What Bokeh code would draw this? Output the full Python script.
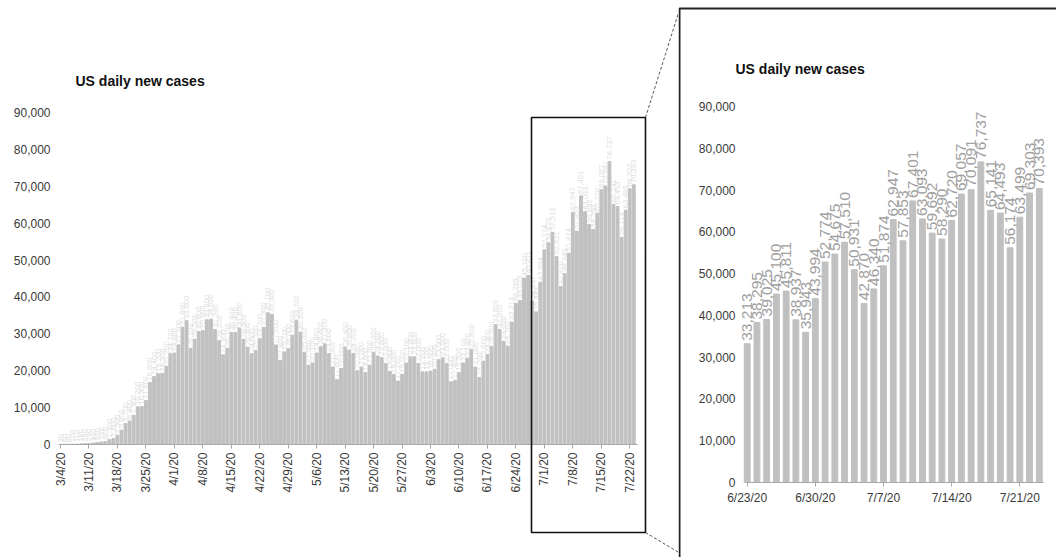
import math
import pandas as pd
from bokeh.plotting import figure
from bokeh.layouts import row
from bokeh.core.properties import value
from bokeh.models import (ColumnDataSource, FixedTicker, LabelSet, Label,
                          Range1d, NumeralTickFormatter, BoxAnnotation)
from bokeh.embed import file_html
from bokeh.resources import INLINE

# ---------------- data ----------------
start_date = "2020-03-04"
end_date = "2020-07-23"
zoom_start = "2020-06-23"

daily_cases = [
    # March 4 - 31
    30, 60, 80, 100, 110, 180, 250, 290, 400, 550, 700, 800, 1300, 1600,
    2500, 3900, 5700, 6400, 7900, 10200, 10300, 11900, 16800, 18400, 19200,
    19300, 21200, 24700,
    # April
    24800, 27000, 31800, 33600, 26100, 28500, 30600, 30900, 33800, 34000,
    31200, 28200, 24300, 26100, 30400, 30400, 31600, 28500, 26400, 24600,
    25500, 28700, 31800, 35700, 35300, 27000, 22800, 25100, 26000, 29600,
    # May
    33700, 30500, 25000, 21500, 22100, 24800, 26600, 27300, 24600, 21000,
    17600, 20600, 26400, 25600, 24700, 20000, 21000, 19500, 21500, 25000,
    24000, 23600, 22000, 19800, 19000, 17200, 19000, 22100, 23800, 23800,
    22000,
    # June
    19700, 19700, 19900, 20400, 23000, 23500, 22000, 17000, 17400, 19500,
    22100, 23400, 25800, 21000, 18200, 22600, 24400, 26600, 32500, 31200,
    28000, 26700, 33213, 38295, 39025, 45100, 45811, 38937, 35943, 43994,
    # July 1 - 23
    52774, 54675, 57510, 50931, 42870, 46340, 51874, 62947, 57853, 67401,
    63093, 59692, 58290, 62720, 69057, 70091, 76737, 65141, 64493, 56174,
    63499, 69303, 70393,
]

y_ticks = [0, 10000, 20000, 30000, 40000, 50000, 60000, 70000, 80000, 90000]
chart_title = "US daily new cases"

dates = pd.date_range(start_date, end_date)
date_labels = [f"{d.month}/{d.day}/{d.year % 100}" for d in dates]
assert len(dates) == len(daily_cases)

FONT = "Liberation Sans"
BAR = "#c0c0c0"
TICK_TXT = "#3a3a3a"
TICK_SIZE = "12px"
TITLE_SIZE = "14px"

# ---------------- left panel (full period) ----------------
WL, H = 678, 557
LX0, LPPD = 60.0, 4.066          # px of day 0, px per day
LY0, LY90 = 444.0, 112.0          # px of 0 and 90,000
lppv = (LY0 - LY90) / 90000.0

def lx(px):
    return (px - LX0) / LPPD

def ly(py):
    return (LY0 - py) / lppv

n_all = list(range(len(daily_cases)))
src_l = ColumnDataSource(dict(
    n=n_all, v=daily_cases, lab=[f"{v:,}" for v in daily_cases]))

pl = figure(width=WL, height=H, x_range=Range1d(lx(0), lx(WL)),
            y_range=Range1d(ly(H), ly(0)), output_backend="svg",
            toolbar_location=None, min_border=0, min_border_left=0,
            min_border_right=0, min_border_top=0, min_border_bottom=0)
pl.title.visible = False
pl.grid.visible = False
pl.outline_line_color = None
pl.background_fill_color = "white"
pl.border_fill_color = "white"

pl.vbar(x="n", top="v", width=0.7, source=src_l, color=BAR)
pl.add_layout(LabelSet(x="n", y="v", text="lab", source=src_l, angle=math.pi / 2,
                       text_font=value(FONT), text_font_size=value("7.5px"),
                       text_color="#dedede",
                       text_align="left", text_baseline="middle", y_offset=2))

week_idx = list(range(0, len(daily_cases), 7))
xa = pl.xaxis[0]
xa.fixed_location = 0
xa.bounds = (lx(58), lx(637))
xa.ticker = FixedTicker(ticks=week_idx)
xa.major_label_overrides = {i: date_labels[i] for i in week_idx}
xa.major_label_orientation = math.pi / 2
xa.major_label_text_font = FONT
xa.major_label_text_font_size = TICK_SIZE
xa.major_label_text_color = TICK_TXT
xa.axis_line_color = "#a8a8a8"
xa.major_tick_line_color = "#a8a8a8"
xa.major_tick_in = 0
xa.major_tick_out = 4
xa.minor_tick_line_color = None
xa.major_label_standoff = 4

ya = pl.yaxis[0]
ya.fixed_location = lx(58)
ya.ticker = FixedTicker(ticks=y_ticks)
ya.formatter = NumeralTickFormatter(format="0,0")
ya.axis_line_color = None
ya.major_tick_line_color = None
ya.minor_tick_line_color = None
ya.major_tick_in = 0
ya.major_tick_out = 0
ya.major_label_standoff = 8
ya.major_label_text_font = FONT
ya.major_label_text_font_size = TICK_SIZE
ya.major_label_text_color = TICK_TXT

pl.add_layout(Label(x=lx(75), y=ly(80), text=chart_title, text_font=FONT,
                    text_font_size=TITLE_SIZE, text_font_style="bold",
                    text_color="#111111", text_baseline="middle"))

# highlight rectangle + connector lines
pl.add_layout(BoxAnnotation(left=lx(531), right=lx(645), top=ly(117), bottom=ly(532),
                            fill_alpha=0, line_color="#111111", line_alpha=1.0,
                            line_width=1.6))
pl.segment(x0=[lx(645), lx(645)], y0=[ly(117), ly(532)],
           x1=[lx(680), lx(680)], y1=[ly(6), ly(553)],
           line_color="#555555", line_width=1, line_dash="3 2")

# ---------------- right panel (zoom) ----------------
WR = 1056 - WL
RX0, RPPD = 746.7 - WL, 9.736     # figure-local px of first bar, px per day
RY0, RY90 = 482.0, 106.0
rppv = (RY0 - RY90) / 90000.0

def rx(px):
    return (px - RX0) / RPPD

def ry(py):
    return (RY0 - py) / rppv

k0 = list(dates).index(pd.Timestamp(zoom_start))
z_cases = daily_cases[k0:]
z_labels = date_labels[k0:]
n_z = list(range(len(z_cases)))
src_r = ColumnDataSource(dict(n=n_z, v=z_cases, lab=[f"{v:,}" for v in z_cases]))

pr = figure(width=WR, height=H, x_range=Range1d(rx(0), rx(WR)),
            y_range=Range1d(ry(H), ry(0)), output_backend="svg",
            toolbar_location=None, min_border=0, min_border_left=0,
            min_border_right=0, min_border_top=0, min_border_bottom=0)
pr.title.visible = False
pr.grid.visible = False
pr.outline_line_color = None
pr.background_fill_color = "white"
pr.border_fill_color = "white"

pr.vbar(x="n", top="v", width=0.6, source=src_r, color=BAR)
pr.add_layout(LabelSet(x="n", y="v", text="lab", source=src_r, angle=math.pi / 2,
                       text_font=value(FONT), text_font_size=value("15.5px"),
                       text_color="#a0a0a0",
                       text_align="left", text_baseline="middle", y_offset=3))

# panel frame (left & top edges visible, others run off the page)
pr.quad(left=[rx(1)], right=[rx(WR + 20)], top=[ry(8)], bottom=[ry(H + 20)],
        fill_color=None, line_color="#222222", line_width=2)

zw = list(range(0, len(z_cases), 7))
xr_ = pr.xaxis[0]
xr_.fixed_location = 0
xr_.bounds = (rx(745 - WL), rx(1043 - WL))
xr_.ticker = FixedTicker(ticks=zw)
xr_.major_label_overrides = {i: z_labels[i] for i in zw}
xr_.major_label_orientation = "horizontal"
xr_.major_label_text_font = FONT
xr_.major_label_text_font_size = TICK_SIZE
xr_.major_label_text_color = TICK_TXT
xr_.axis_line_color = "#a8a8a8"
xr_.major_tick_line_color = "#a8a8a8"
xr_.major_tick_in = 0
xr_.major_tick_out = 4
xr_.minor_tick_line_color = None
xr_.major_label_standoff = 4

yr_ = pr.yaxis[0]
yr_.fixed_location = rx(741 - WL)
yr_.ticker = FixedTicker(ticks=y_ticks)
yr_.formatter = NumeralTickFormatter(format="0,0")
yr_.axis_line_color = None
yr_.major_tick_line_color = None
yr_.minor_tick_line_color = None
yr_.major_tick_in = 0
yr_.major_tick_out = 0
yr_.major_label_standoff = 6
yr_.major_label_text_font = FONT
yr_.major_label_text_font_size = TICK_SIZE
yr_.major_label_text_color = TICK_TXT

pr.add_layout(Label(x=rx(735 - WL), y=ry(68), text=chart_title, text_font=FONT,
                    text_font_size=TITLE_SIZE, text_font_style="bold",
                    text_color="#111111", text_baseline="middle"))

layout = row(pl, pr)
open("out.html", "w").write(file_html(layout, INLINE))
